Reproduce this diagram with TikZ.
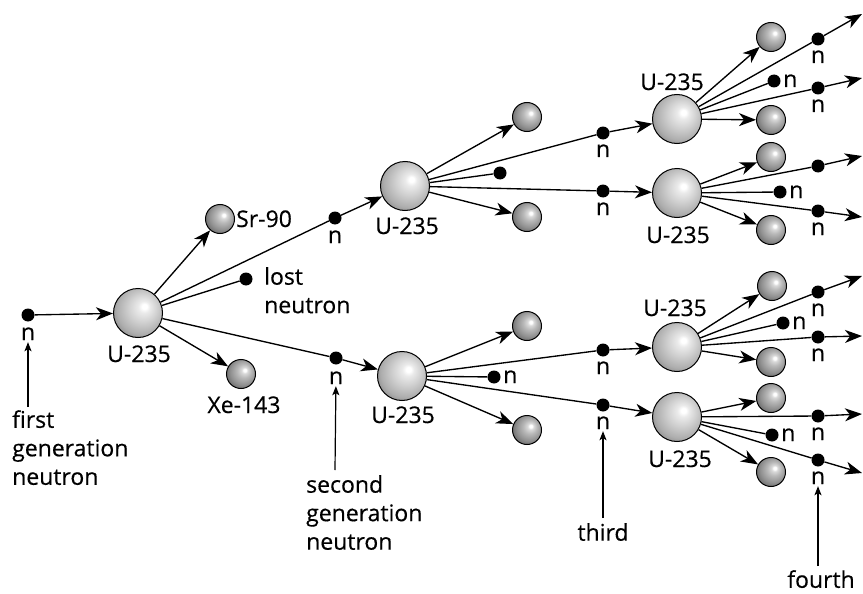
\documentclass[tikz,border=0pt]{standalone}
\usepackage{fontspec}
\setmainfont{Open Sans}[FakeBold=0.4]
\usetikzlibrary{arrows.meta}

% shaded spheres, highlight to the upper right
\pgfdeclareradialshading{bigsphere}{\pgfpoint{7bp}{7bp}}{%
  color(0bp)=(white); color(2.5bp)=(white); color(6bp)=(black!8);
  color(15bp)=(black!19); color(25bp)=(black!32); color(32bp)=(black!47);
  color(36bp)=(black!56); color(50bp)=(black!65)}
\pgfdeclareradialshading{smallsphere}{\pgfpoint{7bp}{7bp}}{%
  color(0bp)=(white); color(2.5bp)=(white); color(5bp)=(black!14);
  color(12bp)=(black!28); color(22bp)=(black!43); color(30bp)=(black!58);
  color(36bp)=(black!70); color(50bp)=(black!80)}

\begin{document}
\begin{tikzpicture}[x=1pt,y=-1pt,
  conn/.style={line width=1.35pt},
  arr/.style={conn,-{Stealth[length=17pt,width=13pt,inset=5pt]}},
  tagarrow/.style={line width=1.2pt,shorten >=2pt,-{Stealth[length=9pt,width=7pt,inset=2pt]}},
  bigball/.style={circle,draw,line width=1pt,minimum size=49pt,inner sep=0pt,shade,shading=bigsphere},
  smallball/.style={circle,draw,line width=1pt,minimum size=29pt,inner sep=0pt,shade,shading=smallsphere},
  neutron/.style={circle,fill=black,minimum size=13pt,inner sep=0pt},
  lab/.style={font=\fontsize{23}{28.5}\selectfont,inner sep=0pt},
  nbelow/.style={lab,anchor=base},
  nside/.style={lab,anchor=base west},
  note/.style={lab,align=left},
]
\useasboundingbox (0,0) rectangle (863,594);

% ---------- first generation ----------
\node[neutron] (n0) at (28,315) {};
\node[nbelow] (ln0) at (28,340) {n};
\node[bigball] (B0) at (138,313) {};
\node[lab,anchor=base] (lB0) at (139,362) {U-235};
\node[smallball] (Sr) at (220,219) {};
\node[lab,anchor=base west] (lSr) at (236,227) {Sr-90};
\node[smallball] (Xe) at (241,374) {};
\node[lab,anchor=base] (lXe) at (244,413) {Xe-143};
\node[neutron] (L0) at (246,279) {};
\node[note,anchor=north west] (lL0) at (264,267) {lost\\neutron};
\node[neutron] (n1a) at (335,218) {};
\node[nbelow] (ln1a) at (335,243) {n};
\node[neutron] (n1b) at (336,358) {};
\node[nbelow] (ln1b) at (336,384) {n};

\draw[arr] (n0) -- (B0);
\draw[arr] (B0) -- (Sr);
\draw[arr] (B0) -- (Xe);
\draw[conn] (B0) -- (L0);
\draw[conn] (B0) -- (n1a);
\draw[conn] (B0) -- (n1b);

% ---------- second generation ----------
\node[bigball] (B1) at (405,186) {};
\node[lab,anchor=base] (lB1) at (407,234) {U-235};
\node[smallball] (s1a) at (527,117) {};
\node[smallball] (s1b) at (527,217) {};
\node[neutron] (d1) at (500,173) {};
\node[neutron] (n2a) at (603,133) {};
\node[nbelow] (ln2a) at (603,157) {n};
\node[neutron] (n2b) at (603,191) {};
\node[nbelow] (ln2b) at (603,215) {n};

\node[bigball] (B2) at (402,376) {};
\node[lab,anchor=base] (lB2) at (403,423) {U-235};
\node[smallball] (s2a) at (527,326) {};
\node[smallball] (s2b) at (527,430) {};
\node[neutron] (d2) at (494,377) {};
\node[nside] (ld2) at (503,383) {n};
\node[neutron] (n2c) at (603,350) {};
\node[nbelow] (ln2c) at (603,374) {n};
\node[neutron] (n2d) at (603,405) {};
\node[nbelow] (ln2d) at (603,429) {n};

\draw[arr] (n1a) -- (B1);
\draw[arr] (n1b) -- (B2);
\draw[arr] (B1) -- (s1a);
\draw[arr] (B1) -- (s1b);
\draw[conn] (B1) -- (d1);
\draw[conn] (B1) -- (n2a);
\draw[conn] (B1) -- (n2b);
\draw[arr] (B2) -- (s2a);
\draw[arr] (B2) -- (s2b);
\draw[conn] (B2) -- (d2);
\draw[conn] (B2) -- (n2c);
\draw[conn] (B2) -- (n2d);

% ---------- third generation ----------
% A
\node[bigball] (BA) at (677,119) {};
\node[lab,anchor=base] (lBA) at (672,90) {U-235};
\node[smallball] (sA1) at (771,37) {};
\node[smallball] (sA2) at (771,120) {};
\node[neutron] (nA1) at (818,39) {};
\node[nbelow] (lnA1) at (818,63) {n};
\node[neutron] (dA) at (774,81) {};
\node[nside] (ldA) at (783,87) {n};
\node[neutron] (nA2) at (818,88) {};
\node[nbelow] (lnA2) at (818,112) {n};
\coordinate (eA1) at (862,14);
\coordinate (eA2) at (862,78);
% B
\node[bigball] (BB) at (677,193) {};
\node[lab,anchor=base] (lBB) at (678,243) {U-235};
\node[smallball] (sB1) at (771,157) {};
\node[smallball] (sB2) at (771,230) {};
\node[neutron] (nB1) at (818,166) {};
\node[neutron] (dB) at (780,192) {};
\node[nside] (ldB) at (789,198) {n};
\node[neutron] (nB2) at (818,211) {};
\node[nbelow] (lnB2) at (818,235) {n};
\coordinate (eB1) at (862,156);
\coordinate (eB2) at (862,217);
% C
\node[bigball] (BC) at (677,347) {};
\node[lab,anchor=base] (lBC) at (675,316) {U-235};
\node[smallball] (sC1) at (772,286) {};
\node[smallball] (sC2) at (771,362) {};
\node[neutron] (nC1) at (818,292) {};
\node[nbelow] (lnC1) at (818,316) {n};
\node[neutron] (dC) at (783,323) {};
\node[nside] (ldC) at (792,329) {n};
\node[neutron] (nC2) at (818,337) {};
\node[nbelow] (lnC2) at (818,361) {n};
\coordinate (eC1) at (862,276);
\coordinate (eC2) at (862,336);
% D
\node[bigball] (BD) at (677,417) {};
\node[lab,anchor=base] (lBD) at (680,467) {U-235};
\node[smallball] (sD1) at (771,398) {};
\node[smallball] (sD2) at (771,472) {};
\node[neutron] (nD1) at (818,416) {};
\node[nbelow] (lnD1) at (818,440) {n};
\node[neutron] (dD) at (772,435) {};
\node[nside] (ldD) at (781,441) {n};
\node[neutron] (nD2) at (818,460) {};
\node[nbelow] (lnD2) at (818,484) {n};
\coordinate (eD1) at (862,414);
\coordinate (eD2) at (862,473);

\draw[arr] (n2a) -- (BA);
\draw[arr] (n2b) -- (BB);
\draw[arr] (n2c) -- (BC);
\draw[arr] (n2d) -- (BD);

\foreach \b in {A,B,C,D}{
  \draw[arr] (B\b) -- (s\b1);
  \draw[arr] (B\b) -- (s\b2);
  \draw[conn] (B\b) -- (d\b);
  \draw[conn] (B\b) -- (n\b1);
  \draw[conn] (B\b) -- (n\b2);
  \draw[arr] (n\b1) -- (e\b1);
  \draw[arr] (n\b2) -- (e\b2);
}

% ---------- generation captions ----------
\node[note,anchor=north west] (t1) at (12,410) {first\\generation\\neutron};
\node[note,anchor=north west] (t2) at (306,475) {second\\generation\\neutron};
\node[lab,anchor=north] (t3) at (603,523) {third};
\node[lab,anchor=north] (t4) at (821,570) {fourth};

\coordinate (f1) at (28,407);
\coordinate (f2) at (335,470);
\coordinate (f3) at (603,518);
\coordinate (f4) at (818,566);
\draw[tagarrow] (f1) -- (ln0);
\draw[tagarrow] (f2) -- (ln1b);
\draw[tagarrow] (f3) -- (ln2d);
\draw[tagarrow] (f4) -- (lnD2);
\end{tikzpicture}
\end{document}
